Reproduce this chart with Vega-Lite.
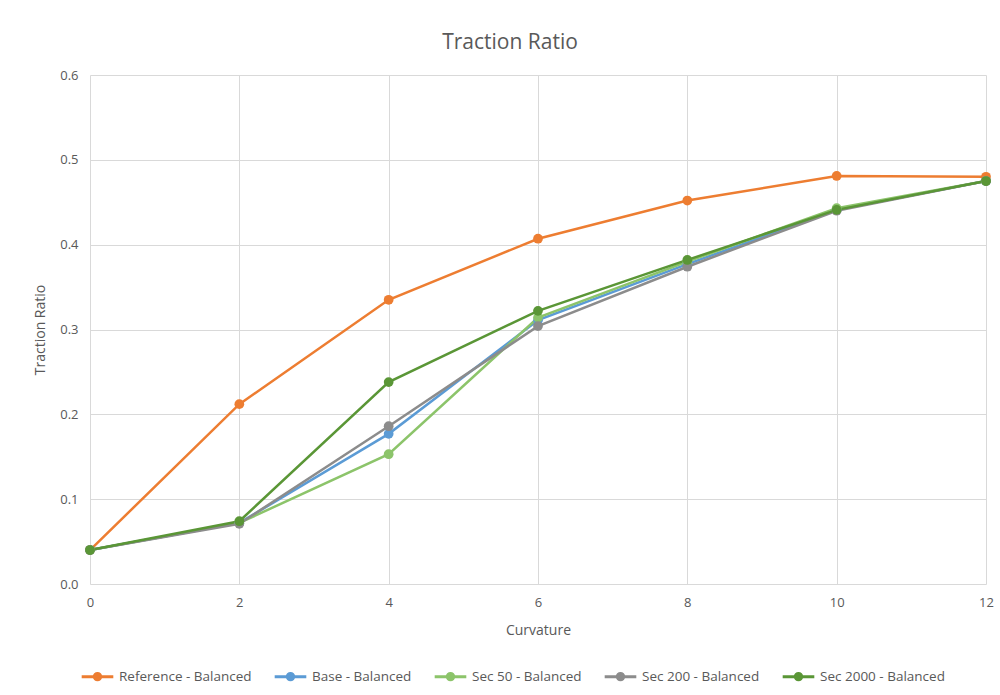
{
  "$schema": "https://vega.github.io/schema/vega-lite/v6.json",
  "autosize": {"type": "none"},
  "width": 896,
  "height": 509,
  "padding": {"left": 90, "top": 75, "right": 14, "bottom": 111},
  "background": "white",
  "title": {"text": "Traction Ratio", "font": "Open Sans", "fontSize": 21, "fontWeight": "normal", "color": "#595959", "offset": 16, "dx": -28},
  "data": {"values": [
    {"series": "Reference - Balanced", "o": 0, "x": 0, "y": 0.040},
    {"series": "Reference - Balanced", "o": 0, "x": 2, "y": 0.212},
    {"series": "Reference - Balanced", "o": 0, "x": 4, "y": 0.335},
    {"series": "Reference - Balanced", "o": 0, "x": 6, "y": 0.407},
    {"series": "Reference - Balanced", "o": 0, "x": 8, "y": 0.452},
    {"series": "Reference - Balanced", "o": 0, "x": 10, "y": 0.481},
    {"series": "Reference - Balanced", "o": 0, "x": 12, "y": 0.480},
    {"series": "Base - Balanced", "o": 1, "x": 0, "y": 0.040},
    {"series": "Base - Balanced", "o": 1, "x": 2, "y": 0.072},
    {"series": "Base - Balanced", "o": 1, "x": 4, "y": 0.177},
    {"series": "Base - Balanced", "o": 1, "x": 6, "y": 0.311},
    {"series": "Base - Balanced", "o": 1, "x": 8, "y": 0.377},
    {"series": "Base - Balanced", "o": 1, "x": 10, "y": 0.441},
    {"series": "Base - Balanced", "o": 1, "x": 12, "y": 0.475},
    {"series": "Sec 50 - Balanced", "o": 2, "x": 0, "y": 0.040},
    {"series": "Sec 50 - Balanced", "o": 2, "x": 2, "y": 0.072},
    {"series": "Sec 50 - Balanced", "o": 2, "x": 4, "y": 0.153},
    {"series": "Sec 50 - Balanced", "o": 2, "x": 6, "y": 0.314},
    {"series": "Sec 50 - Balanced", "o": 2, "x": 8, "y": 0.380},
    {"series": "Sec 50 - Balanced", "o": 2, "x": 10, "y": 0.443},
    {"series": "Sec 50 - Balanced", "o": 2, "x": 12, "y": 0.475},
    {"series": "Sec 200 - Balanced", "o": 3, "x": 0, "y": 0.040},
    {"series": "Sec 200 - Balanced", "o": 3, "x": 2, "y": 0.071},
    {"series": "Sec 200 - Balanced", "o": 3, "x": 4, "y": 0.186},
    {"series": "Sec 200 - Balanced", "o": 3, "x": 6, "y": 0.304},
    {"series": "Sec 200 - Balanced", "o": 3, "x": 8, "y": 0.374},
    {"series": "Sec 200 - Balanced", "o": 3, "x": 10, "y": 0.440},
    {"series": "Sec 200 - Balanced", "o": 3, "x": 12, "y": 0.475},
    {"series": "Sec 2000 - Balanced", "o": 4, "x": 0, "y": 0.040},
    {"series": "Sec 2000 - Balanced", "o": 4, "x": 2, "y": 0.074},
    {"series": "Sec 2000 - Balanced", "o": 4, "x": 4, "y": 0.238},
    {"series": "Sec 2000 - Balanced", "o": 4, "x": 6, "y": 0.322},
    {"series": "Sec 2000 - Balanced", "o": 4, "x": 8, "y": 0.382},
    {"series": "Sec 2000 - Balanced", "o": 4, "x": 10, "y": 0.441},
    {"series": "Sec 2000 - Balanced", "o": 4, "x": 12, "y": 0.475}
  ]},
  "mark": {"type": "line", "strokeWidth": 2.5, "point": {"size": 95, "filled": true, "opacity": 1}},
  "encoding": {
    "x": {"field": "x", "type": "quantitative",
      "scale": {"domain": [0, 12], "nice": false, "zero": false},
      "axis": {"title": "Curvature", "values": [0, 2, 4, 6, 8, 10, 12], "format": "d", "grid": true, "gridColor": "#D9D9D9", "domain": false, "ticks": false, "labelFlush": false, "labelPadding": 12, "titlePadding": 14, "labelFont": "Open Sans", "titleFont": "Open Sans", "labelFontSize": 13, "titleFontSize": 14, "titleFontWeight": "normal", "labelColor": "#595959", "titleColor": "#595959"}},
    "y": {"field": "y", "type": "quantitative",
      "scale": {"domain": [0, 0.6], "nice": false},
      "axis": {"title": "Traction Ratio", "values": [0, 0.1, 0.2, 0.3, 0.4, 0.5, 0.6], "format": ".1f", "grid": true, "gridColor": "#D9D9D9", "domain": false, "ticks": false, "labelFlush": false, "labelPadding": 12, "titlePadding": 12, "labelFont": "Open Sans", "titleFont": "Open Sans", "labelFontSize": 13, "titleFontSize": 14, "titleFontWeight": "normal", "labelColor": "#595959", "titleColor": "#595959"}},
    "color": {"field": "series", "type": "nominal",
      "sort": ["Reference - Balanced", "Base - Balanced", "Sec 50 - Balanced", "Sec 200 - Balanced", "Sec 2000 - Balanced"],
      "scale": {"domain": ["Reference - Balanced", "Base - Balanced", "Sec 50 - Balanced", "Sec 200 - Balanced", "Sec 2000 - Balanced"],
        "range": ["#ED7D31", "#5B9BD5", "#8CC46A", "#8C8C8C", "#5A9636"]},
      "legend": {"title": null, "orient": "none", "direction": "horizontal", "legendX": -10, "legendY": 584,
        "symbolType": "M-1,0L1,0M-0.2,0a0.2,0.2 0 1,0 0.4,0a0.2,0.2 0 1,0 -0.4,0Z", "symbolStrokeWidth": 3, "symbolSize": 1000,
        "labelFont": "Open Sans", "labelFontSize": 13.5, "labelColor": "#595959", "columnPadding": 16, "labelOffset": 4}},
    "order": {"field": "x", "type": "quantitative"}
  },
  "config": {"view": {"stroke": null}}
}
